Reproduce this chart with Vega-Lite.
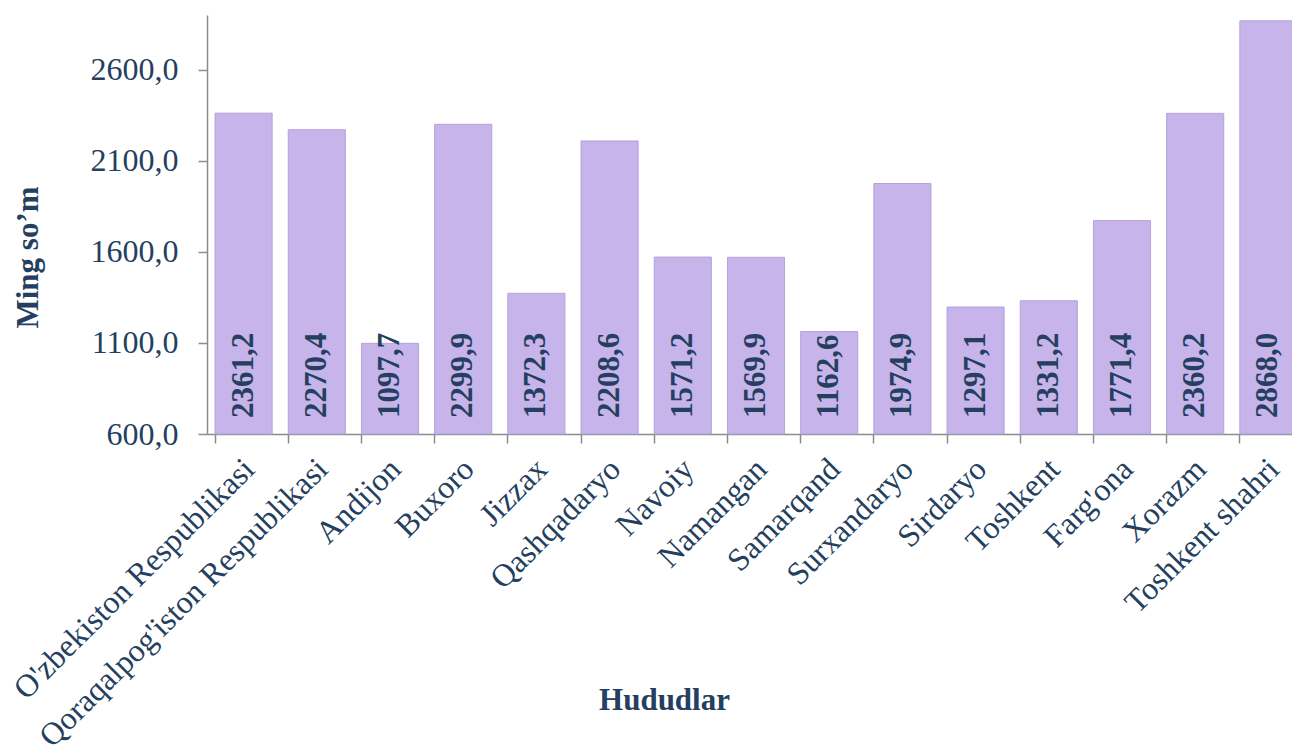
{
  "$schema": "https://vega.github.io/schema/vega-lite/v6.json",
  "width": 1085,
  "height": 419,
  "autosize": {"type": "none"},
  "padding": {"left": 207, "top": 15, "right": 0, "bottom": 320},
  "background": "white",
  "config": {
    "locale": {"number": {"decimal": ",", "thousands": " ", "grouping": [3], "currency": ["", ""]}},
    "view": {"stroke": null},
    "font": "Liberation Serif"
  },
  "data": {
    "values": [
      {"region": "O'zbekiston Respublikasi", "value": 2361.2},
      {"region": "Qoraqalpog'iston Respublikasi", "value": 2270.4},
      {"region": "Andijon", "value": 1097.7},
      {"region": "Buxoro", "value": 2299.9},
      {"region": "Jizzax", "value": 1372.3},
      {"region": "Qashqadaryo", "value": 2208.6},
      {"region": "Navoiy", "value": 1571.2},
      {"region": "Namangan", "value": 1569.9},
      {"region": "Samarqand", "value": 1162.6},
      {"region": "Surxandaryo", "value": 1974.9},
      {"region": "Sirdaryo", "value": 1297.1},
      {"region": "Toshkent", "value": 1331.2},
      {"region": "Farg'ona", "value": 1771.4},
      {"region": "Xorazm", "value": 2360.2},
      {"region": "Toshkent shahri", "value": 2868.0}
    ]
  },
  "encoding": {
    "x": {
      "field": "region",
      "type": "nominal",
      "sort": null,
      "scale": {"range": [0, 1098], "paddingInner": 0.22, "paddingOuter": 0.11},
      "axis": {
        "title": "Hududlar",
        "titleFont": "Liberation Serif",
        "titleFontSize": 31,
        "titleFontWeight": "bold",
        "titleColor": "#243F60",
        "titleX": 457,
        "titleY": 266,
        "titleBaseline": "middle",
        "titleAlign": "center",
        "labelAngle": -45,
        "labelAlign": "right",
        "labelBaseline": "top",
        "labelFont": "Liberation Serif",
        "labelFontSize": 32,
        "labelColor": "#243F60",
        "labelPadding": 10,
        "labelLimit": 0,
        "labelOverlap": false,
        "labelOffset": -5,
        "bandPosition": 0,
        "domainColor": "#8C8C8C",
        "domainWidth": 1.5,
        "tickColor": "#8C8C8C",
        "tickWidth": 1.5,
        "tickSize": 9,
        "grid": false
      }
    }
  },
  "layer": [
    {
      "mark": {"type": "bar", "fill": "#C6B4EA", "stroke": "#B3A3DA", "strokeWidth": 1},
      "encoding": {
        "y": {
          "field": "value",
          "type": "quantitative",
          "scale": {"domain": [600, 2900], "zero": false, "nice": false},
          "axis": {
            "title": "Ming so’m",
            "titleFont": "Liberation Serif",
            "titleFontSize": 31,
            "titleFontWeight": "bold",
            "titleColor": "#243F60",
            "titleX": -179,
            "titleY": 242,
            "titleAngle": 270,
            "titleAlign": "center",
            "titleBaseline": "middle",
            "values": [600, 1100, 1600, 2100, 2600],
            "format": ".1f",
            "labelFont": "Liberation Serif",
            "labelFontSize": 32,
            "labelColor": "#243F60",
            "labelPadding": 20,
            "domainColor": "#8C8C8C",
            "domainWidth": 1.5,
            "tickColor": "#8C8C8C",
            "tickWidth": 1.5,
            "tickSize": 9,
            "grid": false
          }
        },
        "y2": {"datum": 600}
      }
    },
    {
      "mark": {
        "type": "text",
        "angle": 270,
        "align": "left",
        "baseline": "middle",
        "dx": 16,
        "font": "Liberation Serif",
        "fontSize": 31,
        "fontWeight": "bold",
        "color": "#243F60"
      },
      "encoding": {
        "y": {"datum": 600, "type": "quantitative"},
        "text": {"field": "value", "type": "quantitative", "format": ".1f"}
      }
    }
  ]
}
